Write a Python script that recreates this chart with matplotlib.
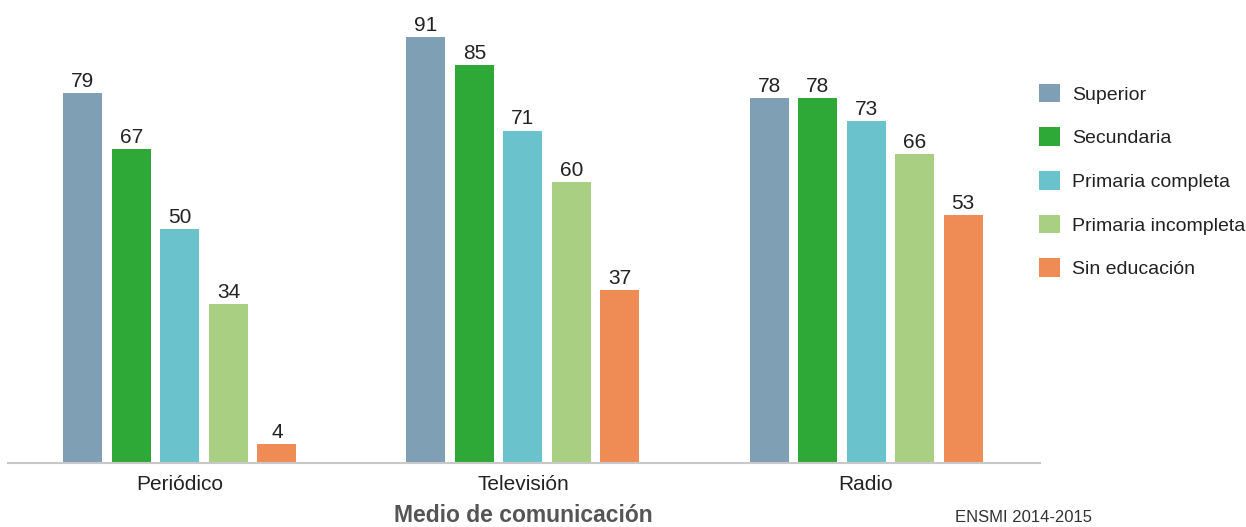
import numpy as np
import matplotlib
matplotlib.use("Agg")
import matplotlib.pyplot as plt
from matplotlib import font_manager

categories = ["Periódico", "Televisión", "Radio"]
series_names = ["Superior", "Secundaria", "Primaria completa",
                "Primaria incompleta", "Sin educación"]
superior = [79, 91, 78]
secundaria = [67, 85, 78]
primaria_completa = [50, 71, 73]
primaria_incompleta = [34, 60, 66]
sin_educacion = [4, 37, 53]
colors = ["#7F9FB4", "#2EA836", "#6AC3CC", "#A9CF83", "#EF8B55"]

names = {f.name for f in font_manager.fontManager.ttflist}
font = "Liberation Sans Narrow" if "Liberation Sans Narrow" in names else "Liberation Sans"
plt.rcParams["font.family"] = [font, "DejaVu Sans"]

fig = plt.figure(figsize=(12.46, 5.27), dpi=100)
ax = fig.add_axes([8 / 1246, 64 / 527, 1032 / 1246, 95 * 4.68 / 527])

x = np.arange(len(categories))
step = 0.1414
width = 0.1137
all_values = [superior, secundaria, primaria_completa, primaria_incompleta, sin_educacion]
bars = []
for i, vals in enumerate(all_values):
    b = ax.bar(x + (i - 2) * step, vals, width, color=colors[i], label=series_names[i])
    bars.append(b)
    for xi, v in zip(x + (i - 2) * step, vals):
        ax.text(xi, v + 0.5, str(v), ha="center", va="bottom", fontsize=15, color="#222222")

ax.set_xlim(-0.501, 2.507)
ax.set_ylim(0, 95)
ax.set_yticks([])
ax.set_xticks(x)
ax.set_xticklabels(categories, fontsize=15, color="#222222")
ax.tick_params(axis="x", length=0, pad=9)
for s in ["top", "right", "left"]:
    ax.spines[s].set_visible(False)
ax.spines["bottom"].set_color("#c8c8c8")
ax.spines["bottom"].set_linewidth(1.5)

fig.text(523 / 1246, 11 / 527, "Medio de comunicación", ha="center", va="center",
         fontsize=16.5, fontweight="bold", color="#555555")
fig.text(955 / 1246, 9 / 527, "ENSMI 2014-2015", ha="left", va="center",
         fontsize=12, color="#333333")

leg = fig.legend(handles=bars, labels=series_names, loc="upper left",
                 bbox_to_anchor=(1031 / 1246, 1 - 76 / 527), frameon=False,
                 fontsize=14, handlelength=1.1, handleheight=1.1,
                 labelspacing=1.22, handletextpad=0.6, borderaxespad=0)
for t in leg.get_texts():
    t.set_color("#222222")

fig.savefig("out.png", dpi=100)
